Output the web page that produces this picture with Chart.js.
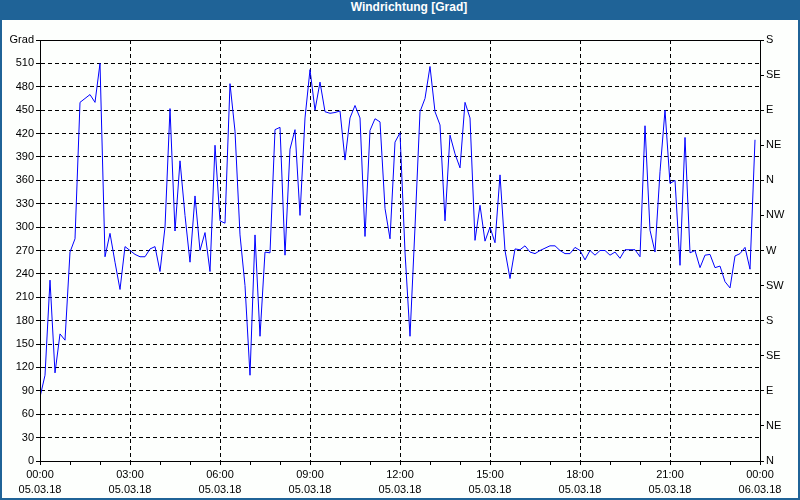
<!DOCTYPE html>
<html>
<head>
<meta charset="utf-8">
<script src="https://cdn.jsdelivr.net/npm/chart.js@4/dist/chart.umd.min.js"></script>
<style>
    body { margin: 0; }
    #frame {
        position: relative;
        width: 800px;
        height: 500px;
        box-sizing: border-box;
        border: 2px solid #1f6397;
        border-top: none;
        background: #fdfffd;
    }
    #title {
        height: 20px;
        line-height: 20px;
        background: #1f6397;
        color: #fff;
        font: bold 12px 'Liberation Sans', sans-serif;
        text-align: center;
        padding-left: 18px;
    }
    #holder {
        position: absolute;
        left: 0;
        top: 20px;
        width: 796px;
        height: 478px;
    }
</style>
</head>
<body>
<div id="frame">
    <div id="title">Windrichtung [Grad]</div>
    <div id="holder"><canvas id="windChart"></canvas></div>
</div>
<script>
// wind direction in degrees, one reading every 10 minutes from 05.03.18 00:00
const stepMinutes = 10;
const direction = [
    82, 110, 232, 113, 163, 155, 268, 285, 460, 465, 470, 460,
    510, 262, 292, 255, 220, 275, 270, 265, 262, 262, 272, 275,
    243, 300, 452, 295, 385, 315, 255, 340, 270, 293, 243, 405,
    308, 305, 484, 423, 290, 225, 110, 290, 160, 268, 267, 425,
    428, 264, 400, 425, 315, 440, 502, 450, 486, 448, 446, 447,
    449, 386, 440, 456, 440, 288, 424, 439, 435, 324, 285, 409,
    421, 268, 160, 300, 448, 465, 506, 448, 431, 308, 418, 394,
    376, 460, 440, 283, 328, 282, 300, 280, 367, 270, 234, 272,
    271, 276, 268, 266, 270, 273, 276, 276, 270, 266, 266, 274,
    270, 258, 270, 264, 270, 270, 264, 268, 260, 271, 271, 271,
    262, 430, 296, 268, 371, 450, 356, 360, 251, 415, 267, 270,
    248, 264, 265, 248, 250, 230, 222, 263, 266, 274, 246, 412
];

const timeLabels = ['00:00', '03:00', '06:00', '09:00', '12:00', '15:00', '18:00', '21:00', '00:00'];
const dateLabels = ['05.03.18', '05.03.18', '05.03.18', '05.03.18', '05.03.18', '05.03.18', '05.03.18', '05.03.18', '06.03.18'];
const compassLabels = ['N', 'NE', 'E', 'SE', 'S', 'SW', 'W', 'NW', 'N', 'NE', 'E', 'SE', 'S'];

const points = direction.map((v, i) => ({ x: i * stepMinutes, y: v }));

const font = { family: "'Liberation Sans', sans-serif", size: 11 };

// black frame round the plot area
const framePlugin = {
    id: 'frame',
    afterDraw(chart) {
        const a = chart.chartArea;
        const ctx = chart.ctx;
        ctx.save();
        ctx.strokeStyle = '#000';
        ctx.lineWidth = 1;
        ctx.strokeRect(Math.round(a.left) + 0.5, Math.round(a.top) + 0.5,
            Math.round(a.right - a.left), Math.round(a.bottom - a.top));
        ctx.restore();
    }
};

const ctx = document.getElementById('windChart').getContext('2d');

const chart = new Chart(ctx, {
    type: 'line',
    data: {
        datasets: [{
            label: 'Windrichtung',
            data: points,
            borderColor: '#0000ff',
            borderWidth: 1,
            pointRadius: 0,
            tension: 0,
            fill: false,
            yAxisID: 'y'
        }]
    },
    options: {
        responsive: true,
        maintainAspectRatio: false,
        animation: false,
        layout: { padding: { top: 20, left: 0, right: 0, bottom: 0 } },
        plugins: {
            legend: { display: false },
            tooltip: { enabled: false }
        },
        scales: {
            x: {
                type: 'linear',
                min: 0,
                max: 1440,
                afterFit: scale => { scale.height = 37; },
                border: { color: '#000', dash: [4, 3] },
                grid: {
                    color: c => (c.tick && c.tick.value % 180 === 0) ? '#000' : 'rgba(0,0,0,0)',
                    tickColor: '#000',
                    tickLength: 4
                },
                ticks: {
                    stepSize: 60,
                    autoSkip: false,
                    maxRotation: 0,
                    padding: 2,
                    color: '#000',
                    font: { ...font, lineHeight: 1.4 },
                    callback: v => v % 180 === 0 ? [timeLabels[v / 180], dateLabels[v / 180]] : ''
                }
            },
            y: {
                position: 'left',
                min: 0,
                max: 540,
                afterFit: scale => { scale.width = 38; },
                border: { color: '#000', dash: [4, 3] },
                grid: { color: '#000', tickColor: '#000', tickLength: 4 },
                ticks: {
                    stepSize: 30,
                    padding: 2,
                    color: '#000',
                    font: font,
                    callback: v => v === 540 ? 'Grad' : v
                }
            },
            y2: {
                position: 'right',
                min: 0,
                max: 540,
                afterFit: scale => { scale.width = 38; },
                border: { color: '#000' },
                grid: { drawOnChartArea: false, tickColor: '#000', tickLength: 4 },
                ticks: {
                    stepSize: 45,
                    padding: 2,
                    color: '#000',
                    font: font,
                    callback: v => compassLabels[v / 45]
                }
            }
        }
    },
    plugins: [framePlugin]
});
</script>
</body>
</html>
